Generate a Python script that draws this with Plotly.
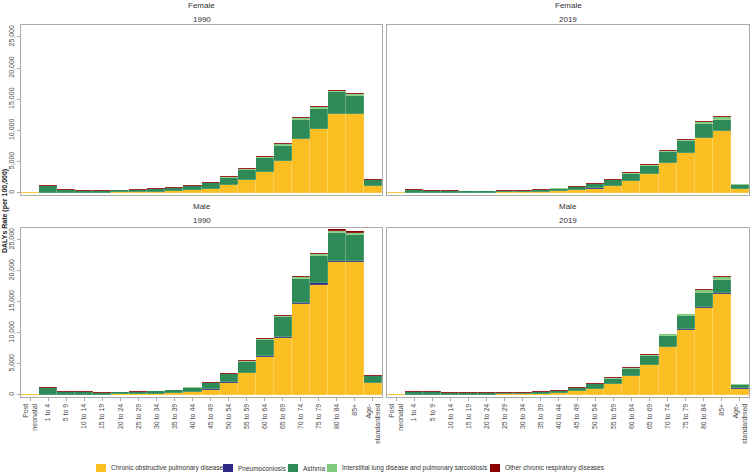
import plotly.graph_objects as go

ages = ["Post<br>neonatal", "1 to 4", "5 to 9", "10 to 14", "15 to 19", "20 to 24",
        "25 to 29", "30 to 34", "35 to 39", "40 to 44", "45 to 49", "50 to 54",
        "55 to 59", "60 to 64", "65 to 69", "70 to 74", "75 to 79", "80 to 84",
        "85+", "Age-<br>standardised"]

causes = ["Chronic obstructive pulmonary disease", "Pneumoconiosis", "Asthma",
          "Interstitial lung disease and pulmonary sarcoidosis",
          "Other chronic respiratory diseases"]
colors = ["#FBBF24", "#2E2A84", "#2E8B57", "#7FC97F", "#8B0000"]

# Female 1990
f1990_copd   = [60, 30, 20, 30, 50, 80, 120, 180, 280, 430, 600, 1190, 1990, 3370, 5140, 8670, 10270, 12580, 12580, 1080]
f1990_pneumo = [0, 0, 0, 0, 0, 0, 0, 0, 0, 0, 0, 5, 5, 10, 10, 10, 10, 10, 10, 5]
f1990_asthma = [0, 1060, 450, 300, 300, 320, 370, 400, 480, 600, 960, 1240, 1620, 2150, 2390, 3000, 3200, 3530, 2990, 990]
f1990_ild    = [0, 20, 20, 20, 20, 20, 30, 30, 40, 60, 90, 120, 160, 200, 220, 250, 260, 200, 230, 60]
f1990_other  = [10, 120, 110, 80, 80, 80, 80, 90, 100, 110, 120, 130, 140, 160, 170, 170, 180, 160, 190, 65]

# Female 2019
f2019_copd   = [60, 20, 10, 20, 30, 40, 60, 90, 160, 250, 400, 690, 1150, 1830, 2940, 4720, 6370, 8830, 9850, 640]
f2019_pneumo = [0, 0, 0, 0, 0, 0, 0, 0, 0, 0, 0, 5, 5, 5, 5, 5, 5, 5, 5, 3]
f2019_asthma = [0, 470, 280, 270, 220, 210, 230, 250, 330, 430, 530, 690, 850, 1190, 1360, 1740, 1870, 2150, 1850, 640]
f2019_ild    = [0, 10, 10, 10, 10, 10, 20, 20, 30, 40, 60, 90, 110, 150, 190, 230, 270, 340, 400, 100]
f2019_other  = [10, 100, 80, 80, 70, 70, 70, 70, 80, 80, 80, 90, 90, 95, 105, 105, 105, 135, 155, 70]

# Male 1990
m1990_copd   = [60, 30, 20, 30, 50, 90, 130, 200, 300, 380, 860, 1930, 3490, 6170, 9230, 14640, 17760, 21460, 21460, 1830]
m1990_pneumo = [0, 0, 0, 0, 0, 0, 0, 10, 20, 30, 50, 80, 100, 140, 170, 200, 210, 200, 200, 60]
m1990_asthma = [0, 1030, 440, 390, 280, 300, 310, 330, 420, 740, 960, 1320, 1740, 2480, 3120, 3860, 4430, 4470, 4140, 1090]
m1990_ild    = [0, 20, 20, 20, 20, 20, 20, 30, 30, 50, 70, 100, 130, 190, 250, 320, 350, 330, 290, 90]
m1990_other  = [10, 160, 110, 100, 80, 80, 80, 80, 90, 90, 100, 110, 120, 140, 160, 180, 200, 200, 250, 100]

# Male 2019
m2019_copd   = [60, 20, 10, 20, 30, 50, 70, 110, 190, 280, 550, 920, 1720, 2960, 4780, 7670, 10520, 14060, 16250, 1020]
m2019_pneumo = [0, 0, 0, 0, 0, 0, 0, 5, 10, 15, 25, 40, 50, 70, 90, 110, 120, 120, 130, 30]
m2019_asthma = [0, 460, 480, 320, 270, 250, 230, 230, 290, 360, 490, 720, 860, 1190, 1420, 1700, 2000, 2290, 2200, 580]
m2019_ild    = [0, 10, 10, 10, 10, 10, 10, 15, 20, 25, 45, 65, 80, 140, 200, 270, 320, 390, 470, 70]
m2019_other  = [10, 100, 90, 80, 70, 70, 70, 70, 80, 80, 80, 85, 90, 100, 110, 120, 120, 140, 150, 70]

panels = [
    ("Female", "1990", [f1990_copd, f1990_pneumo, f1990_asthma, f1990_ild, f1990_other]),
    ("Female", "2019", [f2019_copd, f2019_pneumo, f2019_asthma, f2019_ild, f2019_other]),
    ("Male", "1990", [m1990_copd, m1990_pneumo, m1990_asthma, m1990_ild, m1990_other]),
    ("Male", "2019", [m2019_copd, m2019_pneumo, m2019_asthma, m2019_ild, m2019_other]),
]

W, H = 750, 473
xdoms = [[21 / W, 382 / W], [387 / W, 749 / W]]
ydoms = [[1 - 195 / H, 1 - 25 / H], [1 - 397 / H, 1 - 228 / H]]
strip_y = [(5, 19), (206, 221)]

fig = go.Figure()
font = "Liberation Sans, Arial, sans-serif"
layout = dict(
    width=W, height=H, margin=dict(l=0, r=0, t=0, b=0, autoexpand=False),
    paper_bgcolor="white", plot_bgcolor="white",
    barmode="stack", bargap=0,
    font=dict(family=font, size=7, color="#4d4d4d"),
    showlegend=False,
)
annotations = []
shapes = []

for i, (sex, year, series) in enumerate(panels):
    r, c = divmod(i, 2)
    n = i + 1
    xa = "x" if n == 1 else f"x{n}"
    ya = "y" if n == 1 else f"y{n}"
    for k, (name, col, vals) in enumerate(zip(causes, colors, series)):
        fig.add_trace(go.Bar(
            x=ages, y=vals, name=name, xaxis=xa, yaxis=ya,
            marker=dict(color=col, line=dict(color="rgba(255,255,255,0.3)", width=0.5)),
            width=1, legendgroup=name, showlegend=False,
        ))
    layout["xaxis" if n == 1 else f"xaxis{n}"] = dict(
        domain=xdoms[c], anchor=ya, range=[-0.5, 19.5], type="category",
        showgrid=False, zeroline=False, showline=True, mirror=True,
        linecolor="#aaaaaa", linewidth=1, automargin=False,
        showticklabels=(r == 1), ticks="outside" if r == 1 else "",
        ticklen=3, tickcolor="#aaaaaa", tickangle=-90,
        tickfont=dict(size=7, color="#4d4d4d"), fixedrange=True,
    )
    layout["yaxis" if n == 1 else f"yaxis{n}"] = dict(
        domain=ydoms[r], anchor=xa, range=[-350, 26900],
        tickvals=[0, 5000, 10000, 15000, 20000, 25000], tickformat=",d",
        showgrid=False, zeroline=False, showline=True, mirror=True,
        linecolor="#aaaaaa", linewidth=1, automargin=False,
        showticklabels=(c == 0), ticks="outside" if c == 0 else "",
        ticklen=3, tickcolor="#aaaaaa", tickangle=-90,
        tickfont=dict(size=7, color="#4d4d4d"),
    )
    xc = (xdoms[c][0] + xdoms[c][1]) / 2
    annotations.append(dict(text=sex, x=xc, y=1 - strip_y[r][0] / H, xref="paper", yref="paper",
                            showarrow=False, xanchor="center", yanchor="middle",
                            font=dict(size=8, color="#333333")))
    annotations.append(dict(text=year, x=xc, y=1 - strip_y[r][1] / H, xref="paper", yref="paper",
                            showarrow=False, xanchor="center", yanchor="middle",
                            font=dict(size=8, color="#333333")))

annotations.append(dict(text="<b>DALYs Rate (per 100,000)</b>", x=5 / W, y=1 - 211 / H,
                        xref="paper", yref="paper", textangle=-90, showarrow=False,
                        xanchor="center", yanchor="middle",
                        font=dict(size=7, color="#1a1a1a")))

# legend (keys + labels) at the bottom
key_x = [96, 223, 288, 327, 490]
ly = 468
for name, col, kx in zip(causes, colors, key_x):
    shapes.append(dict(type="rect", xref="paper", yref="paper",
                       x0=kx / W, x1=(kx + 10) / W, y0=1 - (ly + 4) / H, y1=1 - (ly - 4) / H,
                       fillcolor=col, line=dict(width=0)))
    annotations.append(dict(text=name, x=(kx + 13) / W, y=1 - ly / H, xref="paper", yref="paper",
                            showarrow=False, xanchor="left", yanchor="middle",
                            font=dict(size=6.5, color="#333333")))

layout["annotations"] = annotations
layout["shapes"] = shapes
fig.update_layout(**layout)
fig.write_html("out.html", config={"displayModeBar": False},
               post_script="document.body.style.margin='0px';document.body.style.overflow='hidden';")
